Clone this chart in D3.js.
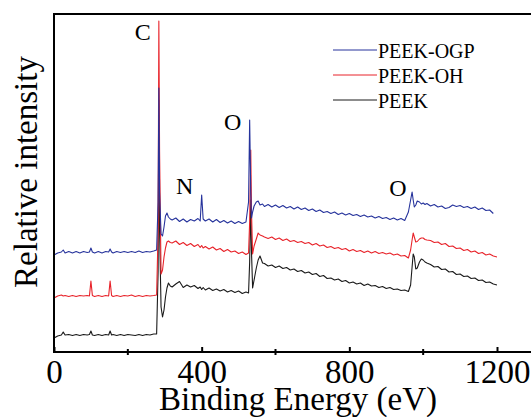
<!DOCTYPE html>
<html>
<head>
<meta charset="utf-8">
<script src="https://cdn.jsdelivr.net/npm/d3@7/dist/d3.min.js"></script>
<style>
  html, body { margin: 0; padding: 0; background: #fff; }
  svg { display: block; }
</style>
</head>
<body>
<svg id="chart" width="531" height="417"></svg>
<script>
// XPS survey spectra: binding energy (eV) and offset relative intensity (a.u.)
const energy = [
  0, 10, 20, 25, 30, 40, 50, 60, 70, 80, 90, 96, 100, 104, 110, 120, 130, 140, 148, 152, 156, 160,
  170, 180, 190, 200, 210, 220, 230, 240, 250, 260, 270, 278,
  282, 284, 286, 290, 294, 298, 302, 306, 310, 315,
  320, 330, 340, 350, 360, 370, 380, 390,
  396, 400, 404,
  410, 420, 430, 440, 450, 460, 470, 480, 490, 500, 510, 520,
  527, 530, 533, 535, 538, 542, 548, 553, 558, 565,
  570, 580, 590, 600, 610, 620, 630, 640, 650, 660, 670, 680, 690, 700, 710, 720, 730, 740, 750, 760,
  770, 780, 790, 800, 810, 820, 830, 840, 850, 860, 870, 880, 890, 900, 910, 920, 930, 940, 950, 960,
  966, 970, 973, 976, 980, 984, 990, 995, 1000, 1005, 1010,
  1020, 1030, 1040, 1050, 1060, 1070, 1080, 1090, 1100, 1110, 1120, 1130, 1140, 1150, 1160, 1170, 1180, 1190, 1200
];

const peekOGP = [
  97, 99, 100, 102, 99, 100.5, 99, 100.5, 99, 100.5, 99.5, 100, 104, 100, 99, 100.5, 99, 100.5, 100, 103, 100, 99,
  100.5, 99.5, 100.5, 99.5, 100.5, 99.5, 101, 99.5, 100.5, 100, 101, 102,
  150, 264, 160, 118, 116, 125, 136, 139, 135, 133,
  132, 134, 130.5, 133, 130, 132.5, 131, 133.5,
  131, 157, 133,
  131, 133, 130, 132.5, 129.5, 131.5, 129, 131, 128.5, 130.5, 128.5,
  130, 150, 232, 160, 134, 140, 146, 150, 151, 147,
  148, 145.5, 147.5, 145, 147, 144.5, 146.5, 144, 145.5, 143, 145, 142.5, 144, 141.5, 143, 140.5, 142, 139.5, 140.5, 138.5,
  140, 137.5, 139, 137, 138.5, 136.5, 137.5, 135.5, 137, 135, 136, 134, 135.5, 133.5, 134.5, 132.5, 134, 132, 133.5, 131.5,
  140, 152, 160, 152, 145, 147, 151, 150, 148, 149, 147.5,
  148.5, 146, 147.5, 145, 146, 143.5, 144.5, 147, 145.5, 146.5, 144.5, 145.5, 143.5, 145, 142.5, 144, 141.5, 142, 138.5
];

const peekOH = [
  54, 56, 57, 56, 56.5, 55.5, 56.5, 55.5, 56.5, 56, 56.5, 56, 71, 56.5, 55.5, 56.5, 55.5, 56.5, 56, 71, 56.5, 55.5,
  56.5, 55.5, 56.5, 56, 57, 55.5, 56.5, 55.5, 56.5, 56, 56.5, 57,
  120, 331, 200, 78, 82, 95, 104, 110, 111, 109.5,
  109, 111, 107.5, 109.5, 106.5, 108.5, 105.5, 107.5,
  104.5, 106.5, 104,
  105.5, 103, 105, 102, 103.5, 100.5, 102.5, 100, 101, 98.5, 100, 97.5,
  99, 130, 202, 140, 98, 106, 113, 119, 117, 116,
  115, 113.5, 115, 112.5, 114, 111.5, 113, 110.5, 111.5, 109.5, 110.5, 108.5, 109.5, 107, 108.5, 106, 107, 104.5, 105.5, 103.5,
  104.5, 102.5, 103.5, 101, 102.5, 100.5, 101.5, 99.5, 101, 99, 100.5, 98.5, 99.5, 98, 99, 97, 98, 96, 96.5, 94,
  102, 112, 119, 115, 110, 110.5, 113, 114, 114, 112.5, 112,
  111.5, 109.5, 110, 107.5, 108.5, 105.5, 106, 103.5, 104, 101.5, 102.5, 100, 101, 98.5, 99.5, 97, 98, 96, 95
];

const peek = [
  14, 16, 17, 20, 17, 17.5, 16.5, 17.5, 16.5, 17.5, 17, 17.5, 21, 17, 16.5, 17.5, 16.5, 17.5, 17, 21, 17, 17.5,
  16.5, 17.5, 16.5, 17.5, 17, 16.5, 17.5, 16.5, 17.5, 17, 18, 18,
  80, 252, 120, 45, 35, 42, 55, 64, 69, 66,
  65, 68, 70.5, 64.5, 67, 65, 66.5, 63.5,
  65, 62.5, 64.5,
  62, 64, 61.5, 63, 61, 62.5, 60, 61.5, 59.5, 61, 58.5, 60,
  59, 90, 152, 100, 64, 72, 84, 92, 96, 89,
  88.5, 86, 87, 84.5, 86, 83.5, 84.5, 82, 83, 80.5, 81.5, 79, 80, 77.5, 78.5, 75.5, 76.5, 73.5, 74, 72,
  73, 70.5, 71.5, 69, 70, 68, 69, 66.5, 68, 66, 66.5, 64.5, 65.5, 63.5, 64.5, 62.5, 63, 61.5, 62, 60.5,
  67, 85, 98, 95, 83, 84, 90, 93, 92, 90, 89,
  87.5, 85, 85.5, 82.5, 83, 80, 80.5, 77.5, 78, 75.5, 76, 73.5, 74, 71.5, 72, 69.5, 70, 68, 67
];

const seriesNames = ["PEEK-OGP", "PEEK-OH", "PEEK"];
const seriesColors = ["#26339c", "#e8232a", "#1a1a1a"];
const majorTicks = [0, 400, 800, 1200];
const minorTicks = [200, 600, 1000];

// element labels placed next to their peaks: [text, energy, intensity, dx, dy]
const peakLabels = [
  ["C", 284, 331, -16, 19],
  ["N", 400, 157, -17, -1.5],
  ["O", 533, 232, -18, 9.5],
  ["O", 975, 160, -16, 4]
];

const FONT = '"Liberation Serif", "Times New Roman", Times, serif';

const svg = d3.select("#chart");

const x = d3.scaleLinear().domain([0, 1200]).range([54, 497]);
const y = d3.scaleLinear().domain([0, 338]).range([352, 14]);
const xMax = 1320; // frame runs on past the last labelled tick

const line = d3.line()
  .x(d => x(d[0]))
  .y(d => y(d[1]));

const series = [peekOGP, peekOH, peek];

// draw PEEK first so the modified surfaces sit on top
const g = svg.append("g");
[2, 1, 0].forEach(i => {
  g.append("path")
    .datum(energy.map((e, k) => [e, series[i][k]]))
    .attr("d", line)
    .attr("fill", "none")
    .attr("stroke", seriesColors[i])
    .attr("stroke-width", 1.1)
    .attr("stroke-linejoin", "round");
});

// frame: left, top and bottom edges
svg.append("path")
  .attr("d", `M${x(xMax)},${y(338)} H${x(0)} V${y(0)} H${x(xMax)}`)
  .attr("fill", "none")
  .attr("stroke", "#000")
  .attr("stroke-width", 2);

// bottom axis: major ticks point inward
const axis = d3.axisBottom(x)
  .tickValues(majorTicks)
  .tickSizeInner(-5)
  .tickSizeOuter(0)
  .tickPadding(8)
  .tickFormat(d3.format("d"));

const ax = svg.append("g")
  .attr("transform", `translate(0,${y(0)})`)
  .call(axis);
ax.select(".domain").remove();
ax.selectAll(".tick line").attr("stroke", "#000").attr("stroke-width", 2);
ax.selectAll(".tick text")
  .style("font-family", FONT)
  .style("font-size", "33px")
  .attr("fill", "#000");

// minor ticks cross the axis line
svg.append("g").selectAll("line")
  .data(minorTicks)
  .join("line")
  .attr("x1", d => x(d)).attr("x2", d => x(d))
  .attr("y1", y(0) - 3).attr("y2", y(0) + 3)
  .attr("stroke", "#000").attr("stroke-width", 2);

// axis titles
svg.append("text")
  .attr("x", 298).attr("y", 410)
  .attr("text-anchor", "middle")
  .style("font-family", FONT)
  .style("font-size", "33px")
  .text("Binding Energy (eV)");

svg.append("text")
  .attr("transform", `translate(37,172) rotate(-90)`)
  .attr("text-anchor", "middle")
  .style("font-family", FONT)
  .style("font-size", "33px")
  .text("Relative intensity");

// peak labels
svg.append("g").selectAll("text")
  .data(peakLabels)
  .join("text")
  .attr("x", d => x(d[1]) + d[3])
  .attr("y", d => y(d[2]) + d[4])
  .attr("text-anchor", "middle")
  .style("font-family", FONT)
  .style("font-size", "24px")
  .text(d => d[0]);

// legend
const legend = svg.append("g");
seriesNames.forEach((name, i) => {
  const ly = 50 + i * 25;
  legend.append("line")
    .attr("x1", 333).attr("x2", 377)
    .attr("y1", ly).attr("y2", ly)
    .attr("stroke", seriesColors[i])
    .attr("stroke-width", 1);
  legend.append("text")
    .attr("x", 378).attr("y", ly + 7.5)
    .style("font-family", FONT)
    .style("font-size", "20px")
    .text(name);
});
</script>
</body>
</html>
